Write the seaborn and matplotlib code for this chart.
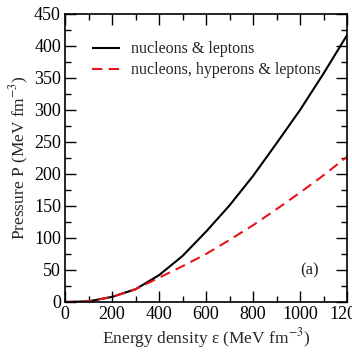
import matplotlib
matplotlib.use('Agg')
import matplotlib.pyplot as plt
import pandas as pd
import seaborn as sns
from matplotlib.ticker import MultipleLocator

# data
energy = [0, 100, 200, 300, 400, 500, 600, 700, 800, 900, 1000, 1100, 1200]
p_nucleons = [0, 1, 8, 20, 42, 72, 110, 151, 197, 248, 300, 357, 417]
p_hyperons = [0, 1, 8, 20, 38, 56, 75, 97, 120, 145, 171, 198, 227]
labels = ['nucleons & leptons', 'nucleons, hyperons & leptons']

df = pd.DataFrame({
    'energy': energy * 2,
    'pressure': p_nucleons + p_hyperons,
    'eos': [labels[0]] * len(energy) + [labels[1]] * len(energy),
})

sns.set_style('ticks')
plt.rcParams['font.family'] = ['Liberation Serif', 'DejaVu Serif']
plt.rcParams['mathtext.fontset'] = 'stix'

fig = plt.figure(figsize=(3.52, 3.53), dpi=100)
ax = fig.add_axes([0.185, 0.1445, 0.801, 0.816])

sns.lineplot(data=df, x='energy', y='pressure', hue='eos', style='eos',
             palette=['black', '#e8141c'], dashes=[(1, 0), (5, 3)],
             linewidth=1.5, ax=ax)

ax.set_xlim(0, 1200)
ax.set_ylim(0, 450)
ax.xaxis.set_major_locator(MultipleLocator(200))
ax.xaxis.set_minor_locator(MultipleLocator(100))
ax.yaxis.set_major_locator(MultipleLocator(50))
ax.yaxis.set_minor_locator(MultipleLocator(25))
ax.tick_params(which='both', direction='in', top=True, right=True,
               labelsize=13, colors='black', width=1)
ax.tick_params(which='major', length=8, pad=3)
ax.tick_params(which='minor', length=4)
for s in ax.spines.values():
    s.set_linewidth(1.2)
    s.set_color('black')

ax.set_xlabel('Energy density ε (MeV fm$^{-3}$)', fontsize=12.5, labelpad=2)
ax.set_ylabel('Pressure P (MeV fm$^{-3}$)', fontsize=12.5, labelpad=2)

ax.text(1040, 50, '(a)', fontsize=12, ha='center', va='center')

leg = ax.legend(loc='upper left', frameon=False, fontsize=11.5,
                handlelength=1.7, borderaxespad=0.6, labelspacing=0.3,
                handletextpad=0.7, bbox_to_anchor=(0.04, 0.96))
leg.set_title(None)

fig.savefig('out.png', dpi=100)
